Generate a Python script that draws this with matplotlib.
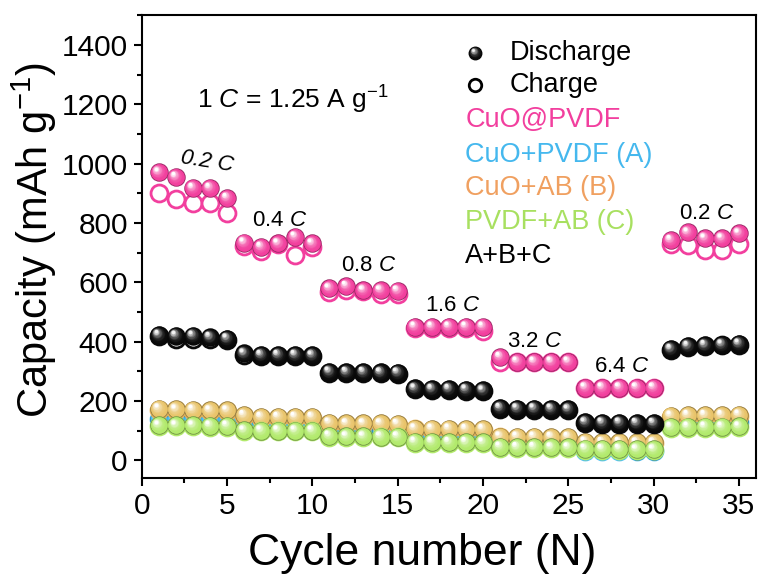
import numpy as np
import matplotlib
matplotlib.use("Agg")
import matplotlib.pyplot as plt
from matplotlib.transforms import ScaledTranslation
from matplotlib.colors import to_rgb
from matplotlib.ticker import MultipleLocator

plt.rcParams["font.family"] = ["Liberation Sans", "DejaVu Sans"]
plt.rcParams["mathtext.fontset"] = "custom"
plt.rcParams["mathtext.rm"] = "Liberation Sans"
plt.rcParams["mathtext.it"] = "Liberation Sans:italic"

# ---- data -------------------------------------------------------------
cycles = np.arange(1, 36)

cuo_pvdf_dis = [971, 955, 918, 918, 884, 734, 719, 731, 753, 731,
                580, 587, 573, 573, 571, 450, 450, 450, 450, 450,
                348, 332, 332, 332, 332, 245, 245, 245, 245, 245,
                742, 768, 748, 748, 765]
cuo_pvdf_chg = [900, 882, 866, 866, 832, 722, 705, 729, 691, 718,
                568, 575, 570, 560, 560, 447, 447, 447, 447, 435,
                330, 330, 330, 330, 330, 243, 243, 243, 243, 243,
                728, 725, 708, 708, 730]

abc_dis = [422, 420, 420, 415, 410, 360, 355, 355, 355, 354,
           298, 297, 297, 296, 295, 242, 240, 240, 238, 236,
           176, 174, 174, 173, 172, 128, 126, 126, 125, 125,
           375, 385, 388, 390, 393]
abc_chg = [418, 410, 408, 410, 406, 356, 352, 352, 352, 351,
           295, 294, 294, 293, 292, 239, 237, 237, 235, 233,
           173, 171, 171, 170, 169, 125, 123, 123, 122, 122,
           372, 382, 385, 387, 390]

cuo_ab_dis = [174, 172, 170, 168, 168, 152, 146, 146, 146, 146,
              126, 124, 124, 124, 122, 107, 106, 106, 105, 105,
              80, 79, 79, 78, 78, 62, 61, 61, 60, 60,
              150, 152, 152, 152, 153]
cuo_ab_chg = [171, 169, 167, 165, 165, 149, 143, 143, 143, 143,
              123, 121, 121, 121, 119, 104, 103, 103, 102, 102,
              77, 76, 76, 75, 75, 59, 58, 58, 57, 57,
              147, 149, 149, 149, 150]

pvdf_ab_dis = [118, 118, 118, 116, 116, 101, 100, 100, 100, 100,
               82, 81, 81, 80, 80, 62, 62, 61, 61, 60,
               45, 44, 44, 43, 43, 39, 38, 38, 37, 37,
               112, 113, 113, 113, 114]
pvdf_ab_chg = [115, 115, 115, 113, 113, 98, 97, 97, 97, 97,
               79, 78, 78, 77, 77, 59, 59, 58, 58, 57,
               42, 41, 41, 40, 40, 36, 35, 35, 34, 34,
               109, 110, 110, 110, 111]

cuo_pvdf_a_dis = [140, 140, 138, 138, 138, 120, 118, 118, 118, 118,
                  100, 99, 99, 98, 98, 82, 81, 81, 80, 80,
                  60, 59, 59, 58, 58, 34, 33, 33, 32, 32,
                  128, 130, 130, 130, 131]
cuo_pvdf_a_chg = [138, 138, 136, 136, 136, 118, 116, 116, 116, 116,
                  98, 97, 97, 96, 96, 80, 79, 79, 78, 78,
                  58, 57, 57, 56, 56, 32, 31, 31, 30, 30,
                  126, 128, 128, 128, 129]

rate_labels = ["0.2", "0.4", "0.8", "1.6", "3.2", "6.4", "0.2"]
rate_label_pos = [(3.85, 1008), (8.1, 810), (13.3, 658), (18.25, 523),
                  (23.05, 401), (28.1, 317), (33.1, 833)]

PINK = "#f23f9e"
BLUE = "#4cbdf0"
ORANGE = "#e9c46a"
GREEN = "#b2ea6c"
BLACK = "#0a0a0a"

# ---- figure -----------------------------------------------------------
fig = plt.figure(figsize=(7.6, 5.74), dpi=100)
ax = fig.add_axes([0.1864, 0.1672, 0.8083, 0.806])


def blend(c, t, target=(1, 1, 1)):
    c = np.array(to_rgb(c))
    return tuple(c * (1 - t) + np.array(target) * t)


def spheres(x, y, color, size=13.3, z=3, base=None, hl=1.0):
    """Shaded balls: dark rim, body colour, then a bright spot upper-left."""
    base = ax.transData if base is None else base
    ax.plot(x, y, "o", ms=size, mfc=blend(color, 0.35, (0, 0, 0)),
            mec="none", transform=base, zorder=z)
    n = 14
    for k in range(n + 1):
        t = k / n
        ms = size * (0.9 - 0.72 * t)
        dx = -0.17 * size * t
        dy = 0.2 * size * t
        col = blend(color, hl * t ** 2.2)
        off = ScaledTranslation(dx / 72, dy / 72, fig.dpi_scale_trans)
        ax.plot(x, y, "o", ms=ms, mfc=col, mec="none",
                transform=base + off, zorder=z)


def rings(x, y, color, size=12.2, z=2.9, base=None):
    base = ax.transData if base is None else base
    ax.plot(x, y, "o", ms=size, mfc="white", mec=color, mew=2.0,
            transform=base, zorder=z)


# draw order: A, B, C, then A+B+C and CuO@PVDF
rings(cycles, cuo_pvdf_a_chg, BLUE, z=2.0)
spheres(cycles, cuo_pvdf_a_dis, BLUE, z=2.1)
rings(cycles, cuo_ab_chg, "#e8b45a", z=2.2)
spheres(cycles, cuo_ab_dis, ORANGE, z=2.3)
rings(cycles, pvdf_ab_chg, GREEN, z=2.4)
spheres(cycles, pvdf_ab_dis, GREEN, z=2.5)
rings(cycles, abc_chg, BLACK, z=2.6)
spheres(cycles, abc_dis, BLACK, z=2.7, hl=0.95)
rings(cycles, cuo_pvdf_chg, PINK, z=2.8)
spheres(cycles, cuo_pvdf_dis, PINK, z=2.9)

# ---- axes -------------------------------------------------------------
ax.set_xlim(0, 36)
ax.set_ylim(-60, 1500)
ax.xaxis.set_major_locator(MultipleLocator(5))
ax.xaxis.set_minor_locator(MultipleLocator(2.5))
ax.yaxis.set_major_locator(MultipleLocator(200))
ax.yaxis.set_minor_locator(MultipleLocator(100))
ax.set_yticks(np.arange(0, 1401, 200))
ax.tick_params(which="major", direction="out", length=6, width=1.5,
               labelsize=21.5, pad=4)
ax.tick_params(which="minor", direction="out", length=3.5, width=1.5)
for s in ax.spines.values():
    s.set_linewidth(1.5)

ax.set_xlabel("Cycle number (N)", fontsize=32)
ax.set_ylabel("Capacity (mAh g$^{-1}$)", fontsize=30)
ax.xaxis.set_label_coords(0.456, -0.118)
ax.yaxis.set_label_coords(-0.135, 0.515)

# ---- annotations ------------------------------------------------------
ax.text(0.09, 0.818, r"1 $\mathit{C}$ = 1.25 A g$^{-1}$", fontsize=19,
        transform=ax.transAxes, ha="left", va="center")

for i, (lab, (xp, yp)) in enumerate(zip(rate_labels, rate_label_pos)):
    if i == 0:
        ax.text(xp, yp, lab + " C", fontsize=16, style="italic",
                rotation=-9, ha="center", va="center", zorder=5)
    else:
        ax.text(xp, yp, lab + r" $\mathit{C}$", fontsize=16,
                ha="center", va="center", zorder=5)

# legend block
lx_mark, lx_text = 0.543, 0.5995
spheres([lx_mark], [0.919], BLACK, size=10, z=6, base=ax.transAxes, hl=0.95)
ax.plot([lx_mark], [0.850], "o", ms=9, mfc="white", mec="black", mew=2.0,
        transform=ax.transAxes, zorder=6)
ax.text(lx_text, 0.919, "Discharge", fontsize=19.5, transform=ax.transAxes,
        va="center", ha="left")
ax.text(lx_text, 0.850, "Charge", fontsize=19.5, transform=ax.transAxes,
        va="center", ha="left")

legend_rows = [("CuO@PVDF", PINK, 0.774),
               ("CuO+PVDF (A)", "#45b8ee", 0.698),
               ("CuO+AB (B)", "#f0a060", 0.626),
               ("PVDF+AB (C)", "#a8e060", 0.554),
               ("A+B+C", "black", 0.479)]
for txt, col, yy in legend_rows:
    ax.text(0.527, yy, txt, fontsize=19.5, color=col, transform=ax.transAxes,
            va="center", ha="left")

fig.savefig("out.png", dpi=100)
